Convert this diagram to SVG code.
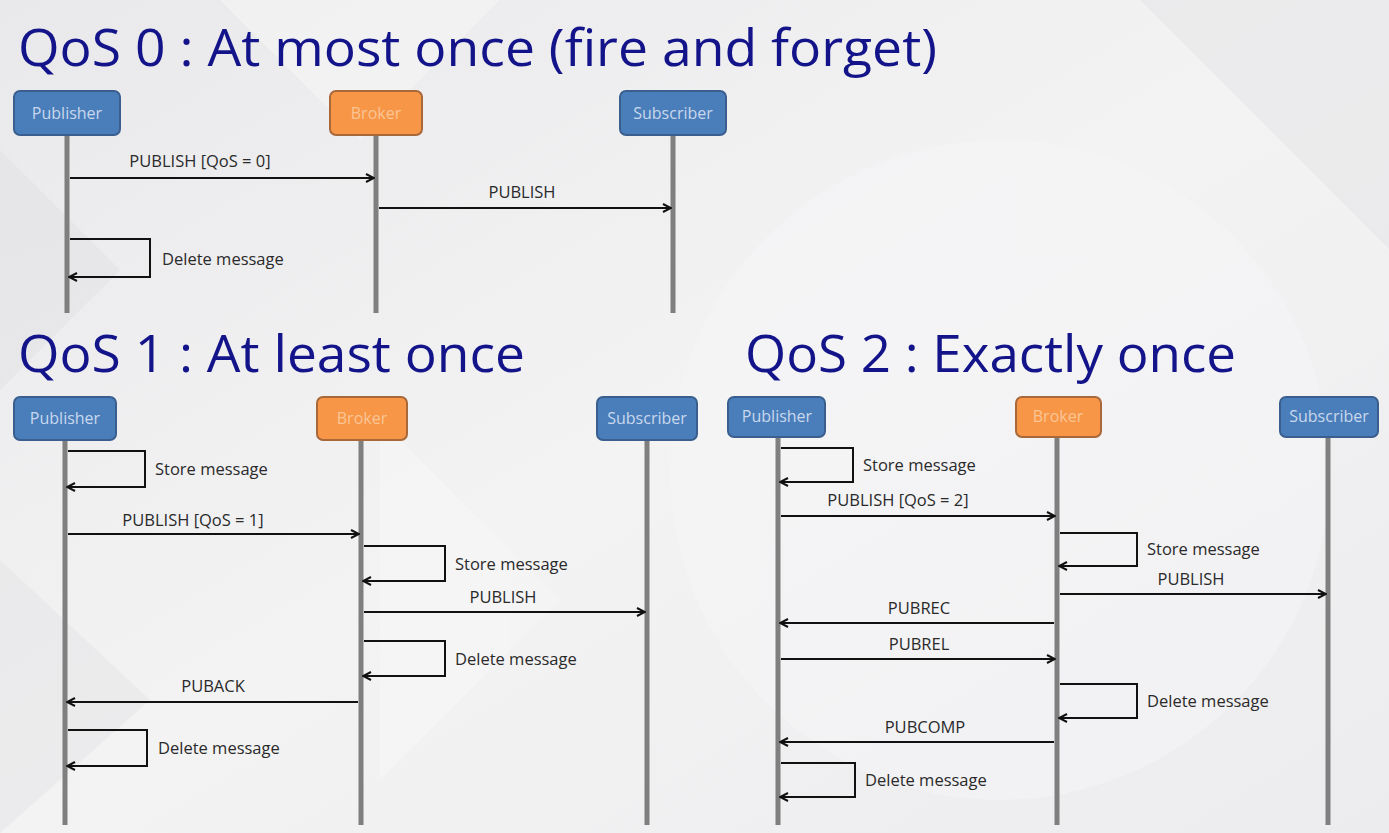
<svg xmlns="http://www.w3.org/2000/svg" width="1389" height="833" viewBox="0 0 1389 833">
<defs>
<linearGradient id="bg" x1="0" y1="0" x2="1" y2="1">
<stop offset="0" stop-color="#e9e9eb"/>
<stop offset="0.5" stop-color="#f3f3f4"/>
<stop offset="1" stop-color="#ececee"/>
</linearGradient>
<marker id="ah" viewBox="0 0 10 10" refX="9" refY="5" markerWidth="10" markerHeight="10" markerUnits="userSpaceOnUse" orient="auto">
<path d="M1,1 L9,5 L1,9" fill="none" stroke="#111" stroke-width="2"/>
</marker>
<style>
.title{font-family:"Open Sans","Noto Sans",sans-serif;font-size:52px;fill:#14148a}
.lbl{font-family:"Open Sans","Noto Sans",sans-serif;font-size:16.5px;fill:#2a2a2a}
.bx{font-family:"Open Sans","Noto Sans",sans-serif;font-size:16px;text-anchor:middle}
.blue rect{fill:#4a7ebb;stroke:#3a5f8e;stroke-width:2}
.blue text{fill:#c9d8ec}
.orange rect{fill:#f79646;stroke:#a8683a;stroke-width:2}
.orange text{fill:#fbc596}
.life{stroke:#7f7f7f;stroke-width:5}
.msg{stroke:#111;stroke-width:2;fill:none;marker-end:url(#ah)}
</style>
</defs>
<rect width="1389" height="833" fill="url(#bg)"/>
<g opacity="0.5">
<polygon points="0,150 120,270 0,390" fill="#e2e2e4"/>
<polygon points="220,0 360,140 500,0" fill="#f7f7f8"/>
<polygon points="380,420 560,600 380,780" fill="#f7f7f8"/>
<polygon points="1140,0 1389,249 1389,0" fill="#e5e5e7"/>
<circle cx="1000" cy="470" r="330" fill="#f6f6f7"/>
<polygon points="0,560 150,700 0,833" fill="#e4e4e6"/>
</g>

<text class="title" x="18" y="66" textLength="919" lengthAdjust="spacingAndGlyphs">QoS 0 : At most once (fire and forget)</text>
<text class="title" x="18" y="372" textLength="507" lengthAdjust="spacingAndGlyphs">QoS 1 : At least once</text>
<text class="title" x="745" y="372" textLength="491" lengthAdjust="spacingAndGlyphs">QoS 2 : Exactly once</text>

<!-- QoS 0 -->
<g id="q0-publisher" class="blue"><rect x="14" y="91" width="106" height="44" rx="6"/><text class="bx" x="67" y="119">Publisher</text><line class="life" x1="67" y1="136" x2="67" y2="313"/></g>
<g id="q0-broker" class="orange"><rect x="330" y="91" width="92" height="44" rx="6"/><text class="bx" x="376" y="119">Broker</text><line class="life" x1="376" y1="136" x2="376" y2="313"/></g>
<g id="q0-subscriber" class="blue"><rect x="620" y="91" width="106" height="44" rx="6"/><text class="bx" x="673" y="119">Subscriber</text><line class="life" x1="673" y1="136" x2="673" y2="313"/></g>

<!-- QoS 1 -->
<g id="q1-publisher" class="blue"><rect x="14" y="397" width="102" height="43" rx="6"/><text class="bx" x="65" y="424">Publisher</text><line class="life" x1="65" y1="441" x2="65" y2="825"/></g>
<g id="q1-broker" class="orange"><rect x="317" y="397" width="90" height="43" rx="6"/><text class="bx" x="362" y="424">Broker</text><line class="life" x1="361" y1="441" x2="361" y2="825"/></g>
<g id="q1-subscriber" class="blue"><rect x="597" y="397" width="100" height="43" rx="6"/><text class="bx" x="647" y="424">Subscriber</text><line class="life" x1="647" y1="441" x2="647" y2="825"/></g>

<!-- QoS 2 -->
<g id="q2-publisher" class="blue"><rect x="728" y="397" width="97" height="40" rx="6"/><text class="bx" x="777" y="422">Publisher</text><line class="life" x1="778" y1="438" x2="778" y2="825"/></g>
<g id="q2-broker" class="orange"><rect x="1016" y="397" width="85" height="40" rx="6"/><text class="bx" x="1058" y="422">Broker</text><line class="life" x1="1057" y1="438" x2="1057" y2="825"/></g>
<g id="q2-subscriber" class="blue"><rect x="1280" y="397" width="98" height="40" rx="6"/><text class="bx" x="1329" y="422">Subscriber</text><line class="life" x1="1328" y1="438" x2="1328" y2="825"/></g>

<g id="connectors">
<!-- QoS 0 -->
<path class="msg" d="M70,178 H374"/>
<path class="msg" d="M379,208 H671"/>
<path class="msg" d="M70,239 H150 V277 H69"/>
<!-- QoS 1 -->
<path class="msg" d="M68,451 H145 V487 H67"/>
<path class="msg" d="M68,534 H359"/>
<path class="msg" d="M364,546 H445 V581 H363"/>
<path class="msg" d="M364,612 H645"/>
<path class="msg" d="M364,641 H445 V676 H363"/>
<path class="msg" d="M358,702 H67"/>
<path class="msg" d="M68,730 H147 V766 H67"/>
<!-- QoS 2 -->
<path class="msg" d="M781,448 H853 V482 H780"/>
<path class="msg" d="M781,516 H1055"/>
<path class="msg" d="M1060,533 H1137 V566 H1059"/>
<path class="msg" d="M1060,594 H1326"/>
<path class="msg" d="M1054,623 H780"/>
<path class="msg" d="M781,659 H1055"/>
<path class="msg" d="M1060,684 H1137 V718 H1059"/>
<path class="msg" d="M1054,742 H780"/>
<path class="msg" d="M781,763 H855 V797 H780"/>
</g>

<g id="labels">
<text class="lbl" x="200" y="167" text-anchor="middle">PUBLISH [QoS = 0]</text>
<text class="lbl" x="522" y="198" text-anchor="middle">PUBLISH</text>
<text class="lbl" x="162" y="265">Delete message</text>

<text class="lbl" x="155" y="475">Store message</text>
<text class="lbl" x="193" y="526" text-anchor="middle">PUBLISH [QoS = 1]</text>
<text class="lbl" x="455" y="570">Store message</text>
<text class="lbl" x="503" y="603" text-anchor="middle">PUBLISH</text>
<text class="lbl" x="455" y="665">Delete message</text>
<text class="lbl" x="213" y="692" text-anchor="middle">PUBACK</text>
<text class="lbl" x="158" y="754">Delete message</text>

<text class="lbl" x="863" y="471">Store message</text>
<text class="lbl" x="898" y="506" text-anchor="middle">PUBLISH [QoS = 2]</text>
<text class="lbl" x="1147" y="555">Store message</text>
<text class="lbl" x="1191" y="585" text-anchor="middle">PUBLISH</text>
<text class="lbl" x="919" y="614" text-anchor="middle">PUBREC</text>
<text class="lbl" x="919" y="650" text-anchor="middle">PUBREL</text>
<text class="lbl" x="1147" y="707">Delete message</text>
<text class="lbl" x="925" y="733" text-anchor="middle">PUBCOMP</text>
<text class="lbl" x="865" y="786">Delete message</text>
</g>
</svg>
